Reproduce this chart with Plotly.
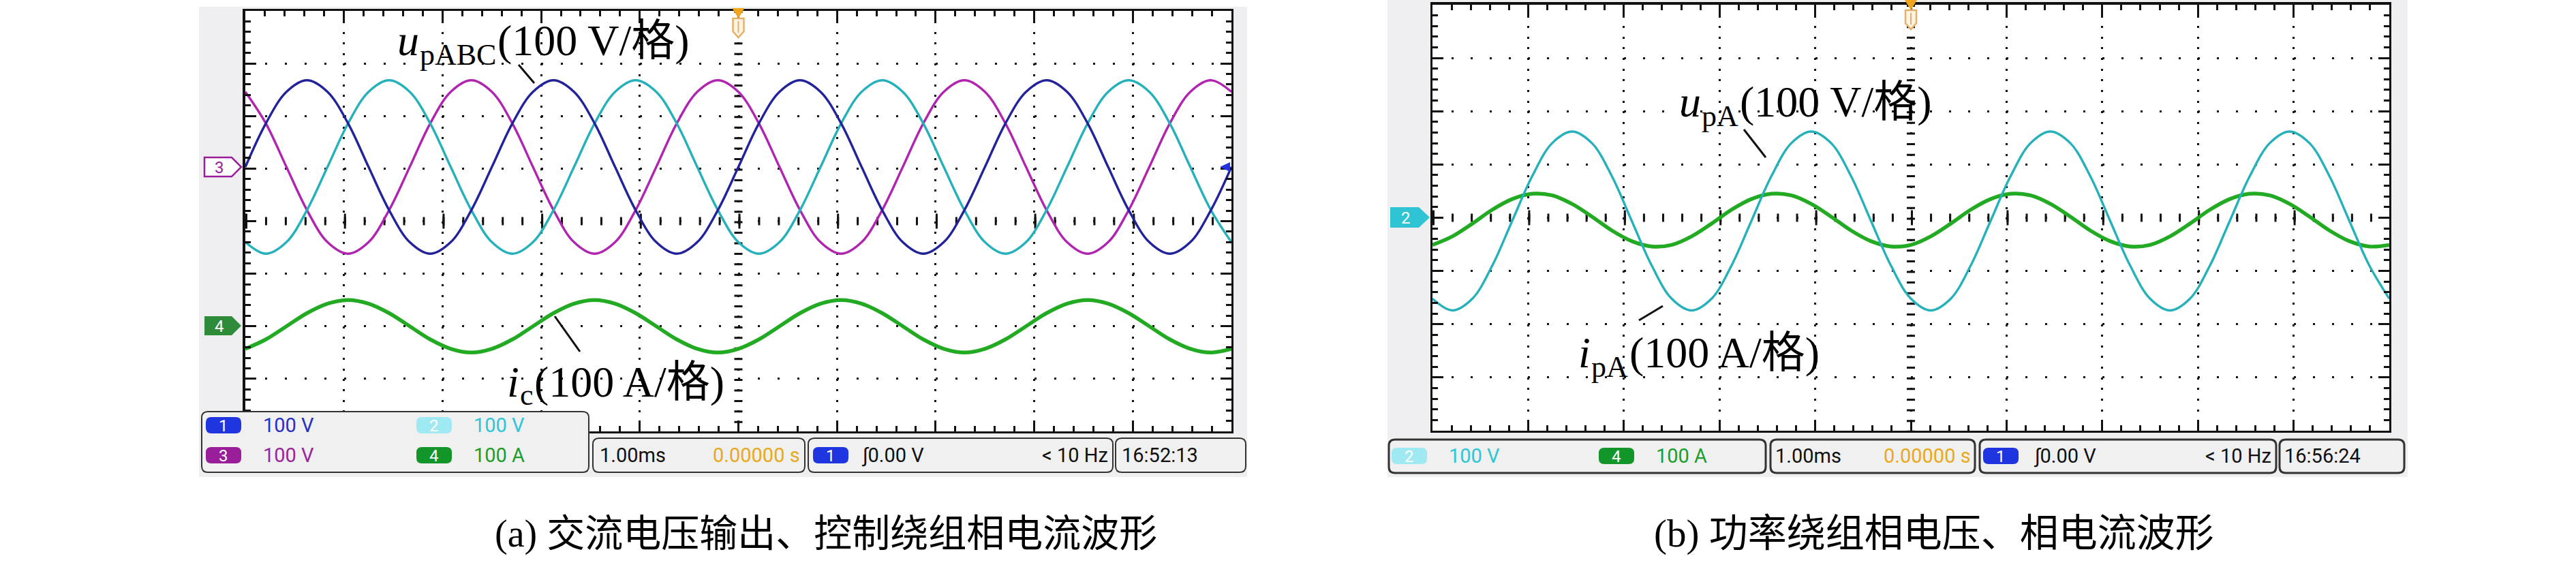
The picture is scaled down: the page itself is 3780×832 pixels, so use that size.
import plotly.graph_objects as go

W, H = 3780, 832
INK = "#111111"

# ---------------- data (time in ms, values in screen divisions) ----------------
t_ms = [0.0, 0.208, 0.417, 0.625, 0.833, 1.042, 1.25, 1.458, 1.667, 1.875, 2.083, 2.292,
        2.5, 2.708, 2.917, 3.125, 3.333, 3.542, 3.75, 3.958, 4.167, 4.375, 4.583, 4.792,
        5.0, 5.208, 5.417, 5.625, 5.833, 6.042, 6.25, 6.458, 6.667, 6.875, 7.083, 7.292,
        7.5, 7.708, 7.917, 8.125, 8.333, 8.542, 8.75, 8.958, 9.167, 9.375, 9.583, 9.792, 10.0]

# panel (a): three-phase output voltage (ch1, ch2, ch3) and control-winding current (ch4)
va_ch1 = [1.03, 1.86, 2.46, 2.68, 2.46, 1.86, 1.03, 0.21, -0.40, -0.62, -0.40, 0.21,
          1.03, 1.86, 2.46, 2.68, 2.46, 1.86, 1.03, 0.21, -0.40, -0.62, -0.40, 0.21,
          1.03, 1.86, 2.46, 2.68, 2.46, 1.86, 1.03, 0.21, -0.40, -0.62, -0.40, 0.21,
          1.03, 1.86, 2.46, 2.68, 2.46, 1.86, 1.03, 0.21, -0.40, -0.62, -0.40, 0.21, 1.03]
va_ch2 = [-0.40, -0.62, -0.40, 0.21, 1.03, 1.86, 2.46, 2.68, 2.46, 1.86, 1.03, 0.21,
          -0.40, -0.62, -0.40, 0.21, 1.03, 1.86, 2.46, 2.68, 2.46, 1.86, 1.03, 0.21,
          -0.40, -0.62, -0.40, 0.21, 1.03, 1.86, 2.46, 2.68, 2.46, 1.86, 1.03, 0.21,
          -0.40, -0.62, -0.40, 0.21, 1.03, 1.86, 2.46, 2.68, 2.46, 1.86, 1.03, 0.21, -0.40]
va_ch3 = [2.46, 1.86, 1.03, 0.21, -0.40, -0.62, -0.40, 0.21, 1.03, 1.86, 2.46, 2.68,
          2.46, 1.86, 1.03, 0.21, -0.40, -0.62, -0.40, 0.21, 1.03, 1.86, 2.46, 2.68,
          2.46, 1.86, 1.03, 0.21, -0.40, -0.62, -0.40, 0.21, 1.03, 1.86, 2.46, 2.68,
          2.46, 1.86, 1.03, 0.21, -0.40, -0.62, -0.40, 0.21, 1.03, 1.86, 2.46, 2.68, 2.46]
ia_ch4 = [-2.43, -2.25, -2.00, -1.75, -1.57, -1.50, -1.57, -1.75, -2.00, -2.25, -2.43, -2.50,
          -2.43, -2.25, -2.00, -1.75, -1.57, -1.50, -1.57, -1.75, -2.00, -2.25, -2.43, -2.50,
          -2.43, -2.25, -2.00, -1.75, -1.57, -1.50, -1.57, -1.75, -2.00, -2.25, -2.43, -2.50,
          -2.43, -2.25, -2.00, -1.75, -1.57, -1.50, -1.57, -1.75, -2.00, -2.25, -2.43, -2.50, -2.43]

# panel (b): power-winding phase voltage (ch2) and phase current (ch4)
vb_ch2 = [-1.52, -1.74, -1.52, -0.90, -0.06, 0.78, 1.40, 1.62, 1.40, 0.78, -0.06, -0.90,
          -1.52, -1.74, -1.52, -0.90, -0.06, 0.78, 1.40, 1.62, 1.40, 0.78, -0.06, -0.90,
          -1.52, -1.74, -1.52, -0.90, -0.06, 0.78, 1.40, 1.62, 1.40, 0.78, -0.06, -0.90,
          -1.52, -1.74, -1.52, -0.90, -0.06, 0.78, 1.40, 1.62, 1.40, 0.78, -0.06, -0.90, -1.52]
ib_ch4 = [-0.51, -0.35, -0.11, 0.15, 0.35, 0.45, 0.42, 0.26, 0.02, -0.24, -0.44, -0.54,
          -0.51, -0.35, -0.11, 0.15, 0.35, 0.45, 0.42, 0.26, 0.02, -0.24, -0.44, -0.54,
          -0.51, -0.35, -0.11, 0.15, 0.35, 0.45, 0.42, 0.26, 0.02, -0.24, -0.44, -0.54,
          -0.51, -0.35, -0.11, 0.15, 0.35, 0.45, 0.42, 0.26, 0.02, -0.24, -0.44, -0.54, -0.51]

# waveform labels: (italic symbol, subscript, rest)
label_upabc = ("u", "pABC", "(100 V/格)")
label_ic = ("i", "c", "(100 A/格)")
label_upa = ("u", "pA", "(100 V/格)")
label_ipa = ("i", "pA", "(100 A/格)")
caption_a = "(a) 交流电压输出、控制绕组相电流波形"
caption_b = "(b) 功率绕组相电压、相电流波形"
scale_ch = {"1": "100 V", "2": "100 V", "3": "100 V", "4": "100 A"}
timebase = "1.00ms"
delay = "0.00000 s"
trig_ch = "1"
trig_level = "∫0.00 V"
trig_freq = "< 10 Hz"
clock_a = "16:52:13"
clock_b = "16:56:24"

# ---------------- styling ----------------
LINE = {"1": "#22229A", "2": "#25B1BB", "3": "#B024B0", "4": "#22AA22"}
BADGE = {"1": "#1F35E0", "2": "#9FEAF2", "3": "#9A1E9A", "4": "#12962A"}
TXT = {"1": "#2B2FC0", "2": "#2CC6D6", "3": "#992699", "4": "#1B9E2B"}
ORANGE = "#E8A920"
GRAY = "#EFEFF1"
SCOPE_FONT = "Roboto"
SERIF = "Liberation Serif, Noto Sans CJK SC"
CJK = "Liberation Serif, Noto Sans CJK SC"


def px(x):
    return round(x / W, 6)


def py(y):
    return round(1 - y / H, 6)


def rrect(x0, y0, x1, y1, r):
    return (f"M{px(x0 + r)},{py(y0)} L{px(x1 - r)},{py(y0)} Q{px(x1)},{py(y0)} {px(x1)},{py(y0 + r)} "
            f"L{px(x1)},{py(y1 - r)} Q{px(x1)},{py(y1)} {px(x1 - r)},{py(y1)} "
            f"L{px(x0 + r)},{py(y1)} Q{px(x0)},{py(y1)} {px(x0)},{py(y1 - r)} "
            f"L{px(x0)},{py(y0 + r)} Q{px(x0)},{py(y0)} {px(x0 + r)},{py(y0)} Z")


def poly(points):
    s = "M" + " L".join(f"{px(x)},{py(y)}" for x, y in points)
    return s + " Z"


shapes = []
annotations = []


def add_path(path, fill, line_color=None, line_width=0, layer="above"):
    shapes.append(dict(type="path", xref="paper", yref="paper", path=path,
                       fillcolor=fill, layer=layer,
                       line=dict(color=line_color or fill, width=line_width)))


def add_rect(x0, y0, x1, y1, fill, layer="below"):
    shapes.append(dict(type="rect", xref="paper", yref="paper",
                       x0=px(x0), x1=px(x1), y0=py(y1), y1=py(y0),
                       fillcolor=fill, line=dict(width=0), layer=layer))


def add_line(x0, y0, x1, y1, color=INK, width=3):
    shapes.append(dict(type="line", xref="paper", yref="paper",
                       x0=px(x0), y0=py(y0), x1=px(x1), y1=py(y1),
                       line=dict(color=color, width=width), layer="above"))


def add_text(x, y, s, color, size, xanchor="left", family=SCOPE_FONT, style="normal"):
    annotations.append(dict(xref="paper", yref="paper", x=px(x), y=py(y), text=s,
                            showarrow=False, xanchor=xanchor, yanchor="middle",
                            font=dict(family=family, size=size, color=color, style=style)))


def wave_label(x0, yc, parts, size=64, sub_size=44):
    sym, sub, rest = parts
    # Liberation Serif (Times metrics): italic u = 0.5 em, italic i = 0.278 em
    sym_w = {"u": 0.5, "i": 0.278}[sym] * size
    sub_w = {"pABC": 2.556, "c": 0.444, "pA": 1.222}[sub] * sub_size
    add_text(x0, yc, sym, "black", size, family=SERIF, style="italic")
    add_text(x0 + sym_w + 1, yc + 20, sub, "black", sub_size, family=SERIF)
    add_text(x0 + sym_w + sub_w + 3, yc, rest, "black", size, family=SERIF)


def badge(x0, yc, ch, w=52, h=24):
    add_path(rrect(x0, yc - h / 2, x0 + w, yc + h / 2, 8), BADGE[ch])
    add_text(x0 + w / 2, yc + 1, ch, "white", 24, xanchor="center")


# panel geometry (pixels)
A = dict(gray=(292, 10, 1830, 700), plot=(360, 16, 1807, 633))
B = dict(gray=(2036, 0, 3533, 700), plot=(2102, 7, 3506, 632))

for P in (A, B):
    add_rect(*P["gray"], GRAY)
for P in (A, B):
    add_rect(*P["plot"], "white")

# ---------------- figure ----------------
fig = go.Figure()


def wave(x, y, color, width, xa, ya):
    return go.Scatter(x=x, y=y, xaxis=xa, yaxis=ya, mode="lines",
                      line=dict(color=color, width=width, shape="spline", smoothing=1.0),
                      hoverinfo="skip", showlegend=False)


fig.add_trace(wave(t_ms, ia_ch4, LINE["4"], 5.5, "x", "y"))
fig.add_trace(wave(t_ms, va_ch3, LINE["3"], 3.4, "x", "y"))
fig.add_trace(wave(t_ms, va_ch2, LINE["2"], 3.4, "x", "y"))
fig.add_trace(wave(t_ms, va_ch1, LINE["1"], 3.4, "x", "y"))
fig.add_trace(wave(t_ms, ib_ch4, LINE["4"], 5.5, "x2", "y2"))
fig.add_trace(wave(t_ms, vb_ch2, LINE["2"], 3.4, "x2", "y2"))


def axis_pair(P, anchor_x, anchor_y):
    x0, y0, x1, y1 = P["plot"]
    xdiv = (x1 - x0) / 50.0
    ydiv = (y1 - y0) / 40.0
    common = dict(showline=True, linecolor=INK, linewidth=3.5, mirror="allticks",
                  ticks="inside", ticklen=16, tickwidth=3, tickcolor=INK,
                  showticklabels=False, showgrid=True, gridcolor=INK, gridwidth=3,
                  zeroline=False, fixedrange=True, tick0=0, dtick=1)
    minor = dict(dtick=0.2, tick0=0, ticks="inside", ticklen=8, tickwidth=3,
                 tickcolor=INK, showgrid=False)
    xa = dict(common, domain=[px(x0), px(x1)], range=[0, 10], anchor=anchor_y,
              griddash=f"3px,{ydiv - 3:.2f}px", minor=minor)
    ya = dict(common, domain=[py(y1), py(y0)], range=[-4, 4], anchor=anchor_x,
              griddash=f"3px,{xdiv - 3:.2f}px", minor=minor)
    return xa, ya, xdiv, ydiv


xa1, ya1, xd1, yd1 = axis_pair(A, "x", "y")
xa2, ya2, xd2, yd2 = axis_pair(B, "x2", "y2")

# centre-line graticule marks
for xr, yr, xd, yd in (("x", "y", xd1, yd1), ("x2", "y2", xd2, yd2)):
    shapes.append(dict(type="line", xref=xr, yref=yr, x0=0, x1=10, y0=0, y1=0, layer="below",
                       line=dict(color=INK, width=12, dash=f"3px,{xd - 3:.2f}px")))
    shapes.append(dict(type="line", xref=xr, yref=yr, x0=0, x1=10, y0=0, y1=0, layer="below",
                       line=dict(color=INK, width=22, dash=f"3px,{5 * xd - 3:.2f}px")))
    shapes.append(dict(type="line", xref=xr, yref=yr, x0=5, x1=5, y0=4, y1=-4, layer="below",
                       line=dict(color=INK, width=12, dash=f"3px,{yd - 3:.2f}px")))

# ---------------- scope decorations ----------------
# trigger position markers (top, orange)
for cx, top in ((360 + 25 * xd1, 12), (2102 + 25 * xd2, 0)):
    add_path(poly([(cx - 9, top), (cx + 9, top), (cx, top + 15)]), "#F2A51A")
    add_path(poly([(cx - 8, top + 15), (cx + 8, top + 15), (cx + 8, top + 34), (cx, top + 43),
                   (cx - 8, top + 34)]), "#FFF4E4", "#E6B06A", 2.5)
    add_line(cx, top + 19, cx, top + 36, "#E6B06A", 2)

# channel reference markers at the left edge
add_path(poly([(300, 231), (340, 231), (354, 245), (340, 259), (300, 259)]), "white", BADGE["3"], 2.5)
add_text(322, 246, "3", BADGE["3"], 24, xanchor="center")
add_path(poly([(300, 464), (340, 464), (354, 478), (340, 492), (300, 492)]), "#2E8B3A")
add_text(322, 479, "4", "white", 24, xanchor="center")
add_path(poly([(2040, 304), (2082, 304), (2098, 319), (2082, 334), (2040, 334)]), "#2EC4D4")
add_text(2063, 320, "2", "white", 24, xanchor="center")
# trigger level arrow (right edge of panel a)
add_path(poly([(1805, 238), (1805, 252), (1790, 245)]), "#2233DD")

# ---------------- bottom read-out boxes ----------------
BOX_FILL = "#F0F0F0"
BOX_LINE = "#333333"
# panel (a)
add_path(rrect(296, 604, 864, 693, 9), BOX_FILL, BOX_LINE, 2)
add_path(rrect(870, 643, 1181, 693, 9), BOX_FILL, BOX_LINE, 2)
add_path(rrect(1186, 643, 1633, 693, 9), BOX_FILL, BOX_LINE, 2)
add_path(rrect(1637, 643, 1828, 693, 9), BOX_FILL, BOX_LINE, 2)
for ch, (bx, by) in {"1": (302, 624), "2": (611, 624), "3": (302, 668), "4": (611, 668)}.items():
    badge(bx, by, ch)
    add_text(bx + 82, by, scale_ch[ch], TXT[ch], 29)
add_text(878, 668, timebase, "#111111", 29)
add_text(1176, 668, delay, ORANGE, 29, xanchor="right")
badge(1193, 668, trig_ch)
add_text(1262, 668, trig_level, "#111111", 29)
add_text(1628, 668, trig_freq, "#111111", 29, xanchor="right")
add_text(1644, 668, clock_a, "#111111", 29)

# panel (b)
add_path(rrect(2038, 645, 2591, 694, 9), BOX_FILL, BOX_LINE, 3)
add_path(rrect(2598, 645, 2898, 694, 9), BOX_FILL, BOX_LINE, 3)
add_path(rrect(2905, 645, 3340, 694, 9), BOX_FILL, BOX_LINE, 3)
add_path(rrect(3345, 645, 3528, 694, 9), BOX_FILL, BOX_LINE, 3)
for ch, bx in (("2", 2042), ("4", 2346)):
    badge(bx, 669, ch)
    add_text(bx + 82, 669, scale_ch[ch], TXT[ch], 29)
add_text(2603, 669, timebase, "#111111", 29)
add_text(2894, 669, delay, ORANGE, 29, xanchor="right")
badge(2910, 669, trig_ch)
add_text(2982, 669, trig_level, "#111111", 29)
add_text(3335, 669, trig_freq, "#111111", 29, xanchor="right")
add_text(3350, 669, clock_b, "#111111", 29)

# ---------------- waveform labels & leaders ----------------
wave_label(581, 60, label_upabc)
add_line(761, 95, 784, 122)
wave_label(742, 560, label_ic)
add_line(814, 464, 851, 516)
wave_label(2462, 150, label_upa)
add_line(2559, 190, 2591, 231)
wave_label(2314, 518, label_ipa)
add_line(2440, 449, 2405, 470)

# captions
add_text(1212, 783, caption_a, "black", 56, xanchor="center", family=CJK)
add_text(2838, 783, caption_b, "black", 57, xanchor="center", family=CJK)

fig.update_layout(
    width=W, height=H, margin=dict(l=0, r=0, t=0, b=0),
    paper_bgcolor="white", plot_bgcolor="white", showlegend=False,
    xaxis=xa1, yaxis=ya1, xaxis2=xa2, yaxis2=ya2,
    shapes=shapes, annotations=annotations,
)

fig.write_html("out.html", config={"displayModeBar": False, "staticPlot": True},
               post_script="document.body.style.margin='0';")
